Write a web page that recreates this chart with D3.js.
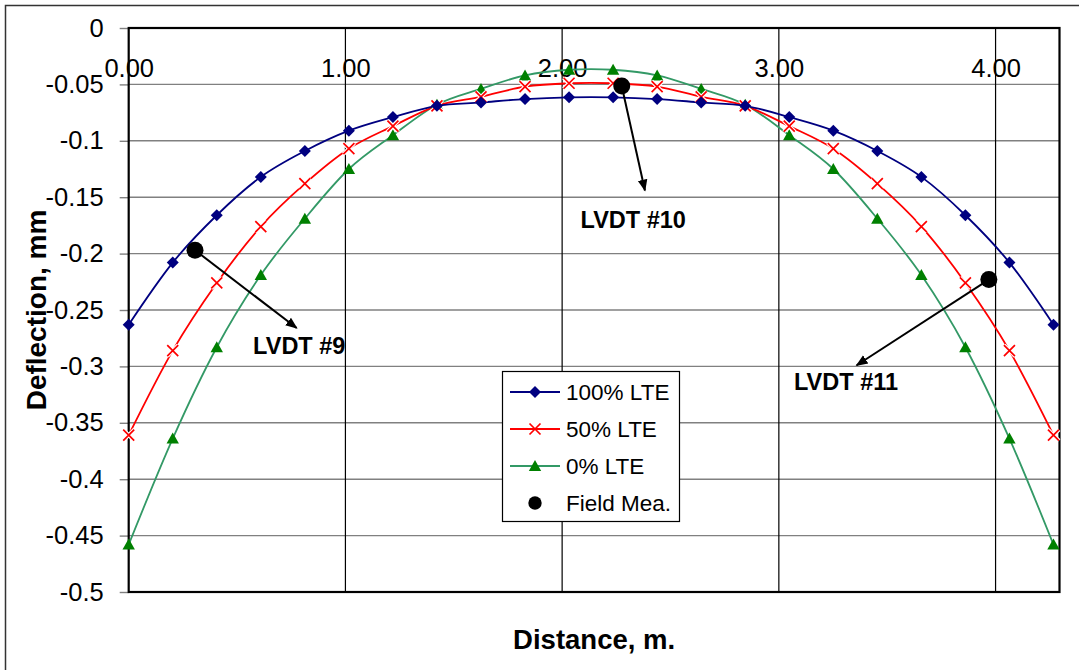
<!DOCTYPE html>
<html>
<head>
<meta charset="utf-8">
<script src="https://cdn.jsdelivr.net/npm/d3@7"></script>
<style>
  body { margin: 0; background: #fff; }
  text { font-family: "Liberation Sans", Arial, sans-serif; }
</style>
</head>
<body>
<div id="my_dataviz"></div>
<script>
// distance along slab, m (8 in spacing)
var distance = [0, 0.2032, 0.4064, 0.6096, 0.8128, 1.016, 1.2192, 1.4224, 1.6256, 1.8288, 2.032,
                2.2352, 2.4384, 2.6416, 2.8448, 3.048, 3.2512, 3.4544, 3.6576, 3.8608, 4.064, 4.2672];
var lte100 = [-0.263, -0.208, -0.166, -0.132, -0.109, -0.091, -0.079, -0.069, -0.066, -0.063, -0.0615,
              -0.0615, -0.063, -0.066, -0.069, -0.079, -0.091, -0.109, -0.132, -0.166, -0.208, -0.263];
var lte50 = [-0.361, -0.286, -0.226, -0.176, -0.138, -0.107, -0.087, -0.069, -0.061, -0.052, -0.049,
             -0.049, -0.052, -0.061, -0.069, -0.087, -0.107, -0.138, -0.176, -0.226, -0.286, -0.361];
var lte0 = [-0.458, -0.364, -0.283, -0.219, -0.169, -0.125, -0.095, -0.068, -0.054, -0.042, -0.037,
            -0.037, -0.042, -0.054, -0.068, -0.095, -0.125, -0.169, -0.219, -0.283, -0.364, -0.458];

// field measurements
var fieldX = [0.306, 2.275, 3.969];
var fieldY = [-0.197, -0.0514, -0.223];
var fieldNames = ["LVDT #9", "LVDT #10", "LVDT #11"];
var arrowTipX = [0.775, 2.382, 3.359];
var arrowTipY = [-0.266, -0.144, -0.299];
var labelX = [0.574, 2.085, 3.07];
var labelY = [-0.289, -0.177, -0.321];

var xTicks = [0, 1, 2, 3, 4];
var xTickLabels = ["0.00", "1.00", "2.00", "3.00", "4.00"];
var yTicks = [0, -0.05, -0.1, -0.15, -0.2, -0.25, -0.3, -0.35, -0.4, -0.45, -0.5];
var yTickLabels = ["0", "-0.05", "-0.1", "-0.15", "-0.2", "-0.25", "-0.3", "-0.35", "-0.4", "-0.45", "-0.5"];
var seriesNames = ["100% LTE", "50% LTE", "0% LTE", "Field Mea."];

var W = 1079, H = 670;
var margin = {top: 28, right: 19.5, bottom: 78, left: 128.7},
  width = W - margin.left - margin.right,
  height = H - margin.top - margin.bottom;

var svg0 = d3.select("#my_dataviz")
  .append("svg")
  .attr("width", W)
  .attr("height", H);

svg0.append("rect").attr("width", W).attr("height", H).attr("fill", "#fff");
// chart area frame
svg0.append("rect")
  .attr("x", 5.5).attr("y", 5.5)
  .attr("width", 1100).attr("height", 700)
  .attr("fill", "none")
  .attr("stroke", "#333")
  .attr("stroke-width", 1.5);

var svg = svg0.append("g")
  .attr("transform", "translate(" + margin.left + "," + margin.top + ")");

var x = d3.scaleLinear().domain([0, 4.295]).range([0, width]);
var y = d3.scaleLinear().domain([0, -0.5]).range([0, height]);

// horizontal gridlines
svg.append("g")
  .selectAll("line")
  .data(yTicks.slice(1, -1))
  .enter().append("line")
  .attr("x1", 0).attr("x2", width)
  .attr("y1", function(d) { return y(d); })
  .attr("y2", function(d) { return y(d); })
  .attr("stroke", "#808080")
  .attr("stroke-width", 1.4);

// vertical gridlines
svg.append("g")
  .selectAll("line")
  .data(xTicks.slice(1))
  .enter().append("line")
  .attr("x1", function(d) { return x(d); })
  .attr("x2", function(d) { return x(d); })
  .attr("y1", 0).attr("y2", height)
  .attr("stroke", "#000")
  .attr("stroke-width", 1.2);

// y axis
var yAxis = svg.append("g")
  .call(d3.axisLeft(y).tickValues(yTicks)
    .tickFormat(function(d, i) { return yTickLabels[i]; })
    .tickSize(9).tickPadding(16));
yAxis.select(".domain").remove();
yAxis.selectAll(".tick line").attr("stroke", "#808080").attr("stroke-width", 1.4);
yAxis.selectAll(".tick text")
  .style("font-size", "25.5px")
  .style("font-family", "'Liberation Sans', Arial, sans-serif")
  .attr("fill", "#000");

// x axis, labels sit just under the top axis line
var xAxis = svg.append("g")
  .call(d3.axisBottom(x).tickValues(xTicks)
    .tickFormat(function(d, i) { return xTickLabels[i]; })
    .tickSize(0).tickPadding(31));
xAxis.select(".domain").remove();
xAxis.selectAll(".tick text")
  .style("font-size", "25.5px")
  .style("font-family", "'Liberation Sans', Arial, sans-serif")
  .attr("fill", "#000");

// plot border
svg.append("rect")
  .attr("x", 0).attr("y", 0)
  .attr("width", width).attr("height", height)
  .attr("fill", "none")
  .attr("stroke", "#000")
  .attr("stroke-width", 2.2);

var line = d3.line()
  .x(function(d) { return x(d[0]); })
  .y(function(d) { return y(d[1]); })
  .curve(d3.curveCardinal.tension(0));

function pts(vals) { return distance.map(function(d, i) { return [d, vals[i]]; }); }

var diamond = "M0,-6L6,0L0,6L-6,0Z";
var tri = "M0,-6L6.2,5L-6.2,5Z";
var cross = "M-5.5,-5.5L5.5,5.5M-5.5,5.5L5.5,-5.5";

// 0% LTE
svg.append("path").datum(pts(lte0))
  .attr("d", line).attr("fill", "none")
  .attr("stroke", "#339966").attr("stroke-width", 1.8);
// 50% LTE
svg.append("path").datum(pts(lte50))
  .attr("d", line).attr("fill", "none")
  .attr("stroke", "#ff0000").attr("stroke-width", 1.8);
// 100% LTE
svg.append("path").datum(pts(lte100))
  .attr("d", line).attr("fill", "none")
  .attr("stroke", "#000080").attr("stroke-width", 1.8);

svg.append("g").selectAll("path")
  .data(pts(lte0)).enter().append("path")
  .attr("transform", function(d) { return "translate(" + x(d[0]) + "," + y(d[1]) + ")"; })
  .attr("d", tri).attr("fill", "#008000");

var xs = svg.append("g").selectAll("g")
  .data(pts(lte50)).enter().append("g")
  .attr("transform", function(d) { return "translate(" + x(d[0]) + "," + y(d[1]) + ")"; });
xs.append("path").attr("d", cross).attr("stroke", "#fff").attr("stroke-width", 4);
xs.append("path").attr("d", cross).attr("stroke", "#ff0000").attr("stroke-width", 1.7);

svg.append("g").selectAll("path")
  .data(pts(lte100)).enter().append("path")
  .attr("transform", function(d) { return "translate(" + x(d[0]) + "," + y(d[1]) + ")"; })
  .attr("d", diamond).attr("fill", "#000080");

// annotations
svg.append("defs").append("marker")
  .attr("id", "arrow")
  .attr("viewBox", "0 0 10 10")
  .attr("refX", 9).attr("refY", 5)
  .attr("markerWidth", 6).attr("markerHeight", 6)
  .attr("markerUnits", "strokeWidth")
  .attr("orient", "auto")
  .append("path").attr("d", "M0,1L10,5L0,9Z").attr("fill", "#000");

svg.append("g").selectAll("line")
  .data(fieldX).enter().append("line")
  .attr("x1", function(d) { return x(d); })
  .attr("y1", function(d, i) { return y(fieldY[i]); })
  .attr("x2", function(d, i) { return x(arrowTipX[i]); })
  .attr("y2", function(d, i) { return y(arrowTipY[i]); })
  .attr("stroke", "#000")
  .attr("stroke-width", 2)
  .attr("marker-end", "url(#arrow)");

svg.append("g").selectAll("circle")
  .data(fieldX).enter().append("circle")
  .attr("cx", function(d) { return x(d); })
  .attr("cy", function(d, i) { return y(fieldY[i]); })
  .attr("r", 8.5)
  .attr("fill", "#000");

svg.append("g").selectAll("text")
  .data(fieldNames).enter().append("text")
  .attr("x", function(d, i) { return x(labelX[i]); })
  .attr("y", function(d, i) { return y(labelY[i]); })
  .style("font-size", "23.5px")
  .style("font-weight", "bold")
  .text(function(d) { return d; });

// legend
var lg = svg.append("g").attr("transform", "translate(" + (502 - margin.left) + "," + (371 - margin.top) + ")");
lg.append("rect")
  .attr("x", 0.5).attr("y", 0.5)
  .attr("width", 177).attr("height", 150)
  .attr("fill", "#fff")
  .attr("stroke", "#000")
  .attr("stroke-width", 1.2);
var lcol = ["#000080", "#ff0000", "#339966", null];
var lrows = lg.selectAll(".lrow")
  .data(seriesNames).enter().append("g")
  .attr("class", "lrow")
  .attr("transform", function(d, i) { return "translate(0," + (21 + i * 37) + ")"; });
lrows.filter(function(d, i) { return i < 3; }).append("line")
  .attr("x1", 8).attr("x2", 58).attr("y1", 0).attr("y2", 0)
  .attr("stroke", function(d, i) { return lcol[i]; })
  .attr("stroke-width", 1.8);
lrows.append("path")
  .attr("transform", "translate(33,0)")
  .attr("d", function(d, i) { return [diamond, cross, tri, d3.symbol().type(d3.symbolCircle).size(140)()][i]; })
  .attr("fill", function(d, i) { return i === 1 ? "none" : ["#000080", null, "#008000", "#000"][i]; })
  .attr("stroke", function(d, i) { return i === 1 ? "#ff0000" : "none"; })
  .attr("stroke-width", 1.7);
lrows.append("text")
  .attr("x", 64).attr("y", 0).attr("dy", "0.36em")
  .style("font-size", "22.5px")
  .text(function(d) { return d; });

// axis titles
svg.append("text")
  .attr("x", width / 2).attr("y", height + 57)
  .attr("text-anchor", "middle")
  .style("font-size", "27.5px")
  .style("font-weight", "bold")
  .text("Distance, m.");

svg.append("text")
  .attr("transform", "translate(" + (46 - margin.left) + "," + (height / 2) + ") rotate(-90)")
  .attr("text-anchor", "middle")
  .style("font-size", "28px")
  .style("font-weight", "bold")
  .text("Deflection, mm");
</script>
</body>
</html>
